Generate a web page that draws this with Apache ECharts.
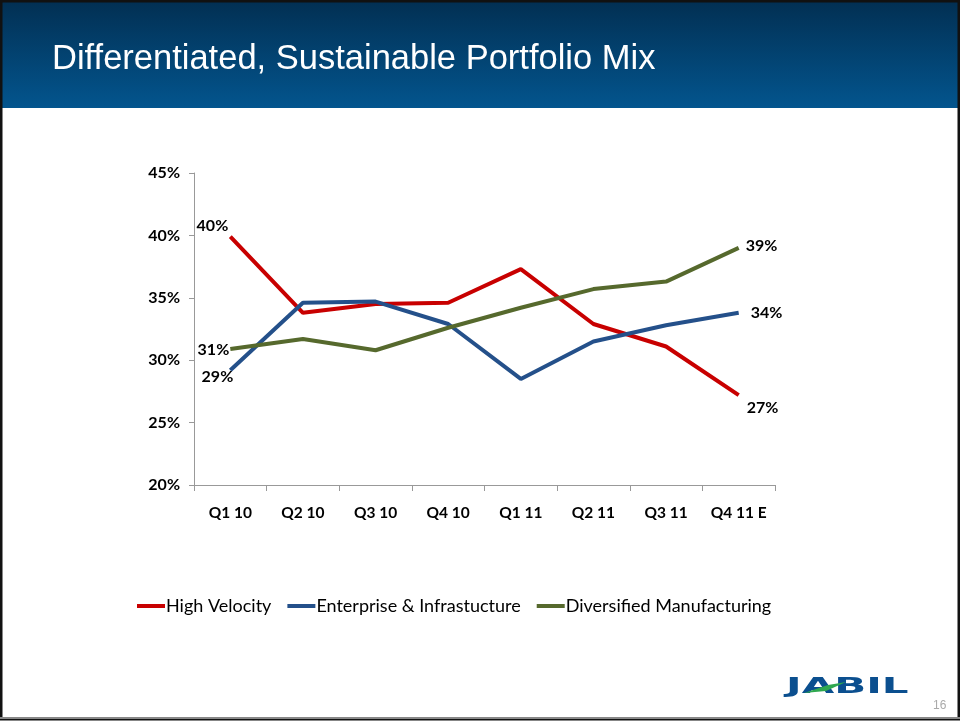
<!DOCTYPE html>
<html><head><meta charset="utf-8">
<script src="https://cdn.jsdelivr.net/npm/echarts@6/dist/echarts.min.js"></script>
<style>html,body{margin:0;padding:0;background:#fff}#c{width:960px;height:721px}</style>
</head><body><div id="c"></div>
<script>
const categories = ['Q1 10','Q2 10','Q3 10','Q4 10','Q1 11','Q2 11','Q3 11','Q4 11 E'];
const highVelocity = [39.9, 33.8, 34.5, 34.6, 37.3, 32.9, 31.1, 27.2];
const enterprise = [29.2, 34.6, 34.7, 32.9, 28.5, 31.5, 32.8, 33.8];
const diversified = [30.9, 31.7, 30.8, 32.6, 34.2, 35.7, 36.3, 39.0];
const yTicks = [20, 25, 30, 35, 40, 45];
const seriesNames = ['High Velocity', 'Enterprise & Infrastucture', 'Diversified Manufacturing'];

const chart = echarts.init(document.getElementById('c'), null, {renderer:'canvas'});
const lblFont = {fontFamily:'Lato, "Open Sans", sans-serif', fontWeight:'bold', fontSize:16, color:'#000'};
function withLabels(vals, first, last){
  return vals.map((v,i)=>{
    if(i===0) return {value:v, label:Object.assign({show:true, formatter:(p)=>Math.round(p.value)+'%'}, lblFont, first)};
    if(i===vals.length-1) return {value:v, label:Object.assign({show:true, formatter:(p)=>Math.round(p.value)+'%'}, lblFont, last)};
    return v;
  });
}
const mk = (name, vals, color, first, last) => ({
  name, type:'line', data: withLabels(vals, first, last), symbol:'circle', symbolSize:0.1, showSymbol:true,
  lineStyle:{width:4, color}, itemStyle:{color}, animation:false, label:{show:false}
});
chart.setOption({
  animation:false,
  graphic:[
    {type:'rect', shape:{x:0,y:0,width:960,height:108}, style:{fill:new echarts.graphic.LinearGradient(0,0,0,1,[{offset:0,color:'#022f52'},{offset:1,color:'#03558e'}])}, z:-1},
    {type:'text', left:52, top:42, style:{text:'Differentiated, Sustainable Portfolio Mix', fill:'#fff', font:'34.5px "Liberation Sans", Arial, sans-serif'}},
    {type:'rect', shape:{x:1,y:1,width:958,height:718}, style:{fill:'none', stroke:'#111', lineWidth:3}, z:10},
    {type:'line', shape:{x1:0,y1:718,x2:960,y2:718}, style:{stroke:'#888', lineWidth:2}, z:11},
    {type:'text', x:786, y:677, scaleX:2.0, style:{text:'JABIL', fill:'#0b4f8f', font:'bold 21px "DejaVu Sans", sans-serif', letterSpacing:1}},
    {type:'polygon', shape:{points:[[804,693],[828,685],[846,682],[826,691]]}, style:{fill:'#2fa84f'}, z:12},
    {type:'text', left:933, top:700, style:{text:'16', fill:'#aaa', font:'12px "Liberation Sans", sans-serif'}}
  ],
  grid:{left:194, right:185, top:173, bottom:236, containLabel:false},
  legend:{
    data:seriesNames, bottom:101, left:132, icon:'rect', itemWidth:28, itemHeight:4, itemGap:16,
    textStyle:{fontFamily:'Lato, "Open Sans", sans-serif', fontSize:18, color:'#000', padding:[0,0,0,-4]}
  },
  xAxis:{
    type:'category', data:categories, boundaryGap:true,
    axisLine:{lineStyle:{color:'#999', width:1}},
    axisTick:{show:true, interval:0, length:6, lineStyle:{color:'#999'}},
    axisLabel:{interval:0, fontFamily:'Lato, "Open Sans", sans-serif', fontWeight:'bold', fontSize:15.5, color:'#000', margin:20}
  },
  yAxis:{
    type:'value', min:20, max:45, interval:5,
    axisLine:{show:true, lineStyle:{color:'#999'}},
    axisTick:{show:true, length:5, inside:false, lineStyle:{color:'#999'}},
    splitLine:{show:false},
    axisLabel:{fontFamily:'Lato, "Open Sans", sans-serif', fontWeight:'bold', fontSize:16, color:'#000', margin:14,
      formatter:(v)=>yTicks.includes(v)? v+'%':''}
  },
  series:[
    mk(seriesNames[0], highVelocity, '#c80000', {position:'left', distance:2, offset:[0,-11]}, {position:'right', distance:8, offset:[0,13]}),
    mk(seriesNames[1], enterprise, '#24508a', {position:'left', distance:0, offset:[3,7]}, {position:'right', distance:12, offset:[0,0]}),
    mk(seriesNames[2], diversified, '#56692d', {position:'left', distance:1, offset:[0,1]}, {position:'right', distance:7, offset:[0,-2]})
  ]
});
</script></body></html>
